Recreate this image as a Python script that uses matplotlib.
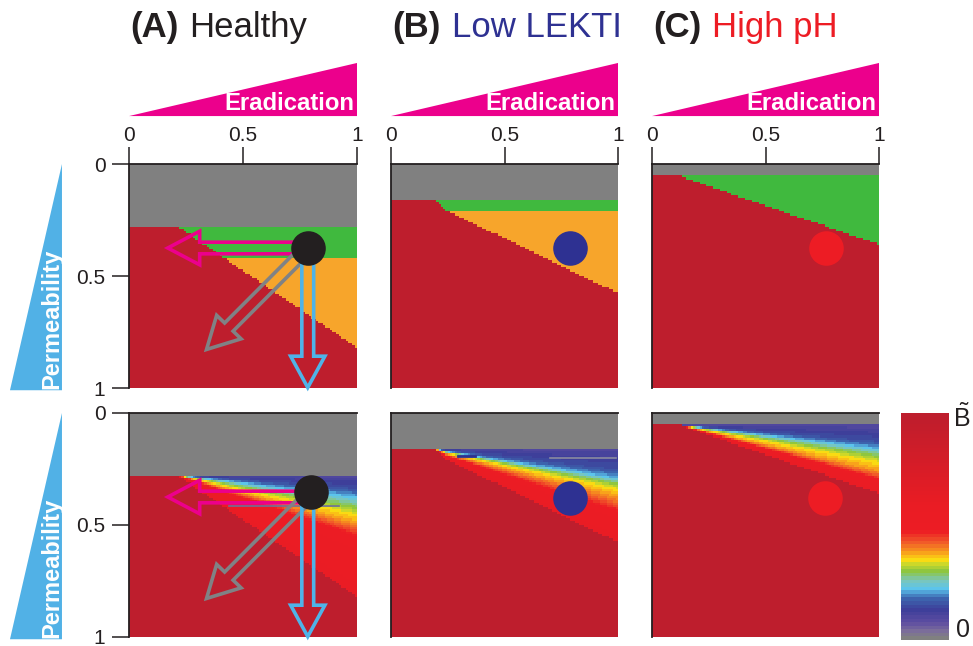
import numpy as np
import matplotlib
matplotlib.use("Agg")
import matplotlib.pyplot as plt
from matplotlib.colors import ListedColormap, LinearSegmentedColormap
from matplotlib.patches import Polygon, FancyArrow

plt.rcParams['font.family'] = ['Liberation Sans', 'DejaVu Sans']
plt.rcParams['mathtext.fontset'] = 'custom'
plt.rcParams['mathtext.rm'] = 'Liberation Sans'

W, H = 973, 646
N = 100  # grid cells per side of each map

labels = ["(A)", "(B)", "(C)"]
conditions = ["Healthy", "Low LEKTI", "High pH"]
condition_colors = ["#231f20", "#2e3192", "#ed1c24"]

# depth of the gray band at the top of each map
gray_depth = [0.277, 0.157, 0.055]
# vertices of the red boundary (eradication, permeability)
edge_x = [[0.21, 1.0], [0.186, 0.245, 1.0], [0.125, 1.0]]
edge_y = [[0.277, 0.82], [0.157, 0.207, 0.577], [0.055, 0.36]]
# lower limit of the green band
green_depth = [0.42, 0.208, 1.0]

# B value across the wedge, from the gray band (0) to the red edge (1)
grad_t = [[0, 0.12, 0.18, 0.25, 0.32, 0.40, 0.46, 0.52, 1.0],
          [0, 0.24, 0.32, 0.37, 0.43, 0.52, 0.61, 0.69, 1.0],
          [0, 0.25, 0.34, 0.43, 0.53, 0.67, 0.75, 0.80, 1.0]]
grad_v = [0.10, 0.16, 0.22, 0.29, 0.345, 0.39, 0.44, 0.50, 0.58]

dot_top = [(0.784, 0.374), (0.789, 0.375), (0.767, 0.375)]
dot_bottom = [(0.80, 0.352), (0.789, 0.378), (0.764, 0.378)]

arrow_start = (0.784, 0.375)
arrow_tips = [(0.17, 0.375), (0.34, 0.828), (0.784, 0.998)]
arrow_colors = ["#ec008c", "#808285", "#4fb3e8"]

region_colors = ["#808080", "#40b93e", "#f7a52b", "#be1e2d"]

cb_pos = [0.0, 0.03, 0.07, 0.13, 0.18, 0.22, 0.26, 0.30, 0.33, 0.35,
          0.39, 0.43, 0.48, 0.60, 1.0]
cb_colors = ["#808080", "#7d6f9a", "#5e4ea2", "#3d3f9a", "#3e68b0",
             "#5bc4ee", "#7dc7b8", "#8dc63f", "#c4d82e", "#fcdc12",
             "#f7931e", "#f1592a", "#ed1c24", "#ea1c24", "#be1e2d"]

bcmap = LinearSegmentedColormap.from_list("btilde", list(zip(cb_pos, cb_colors)), N=64)
rcmap = ListedColormap(region_colors)


def maps(i):
    c = (np.arange(N) + 0.5) / N
    X, Y = np.meshgrid(c, c)
    gd = gray_depth[i]
    edge = np.where(X < edge_x[i][0], gd, np.interp(X, edge_x[i], edge_y[i]))
    inside = (Y >= gd) & (Y < edge)
    cat = np.full((N, N), 3)
    cat[inside & (Y < green_depth[i])] = 1
    cat[inside & (Y >= green_depth[i])] = 2
    cat[Y < gd] = 0
    t = np.clip((Y - gd) / np.maximum(edge - gd, 1e-6), 0, 1)
    val = np.interp(t, grad_t[i], grad_v)
    val[~inside] = 1.0
    val[Y < gd] = 0.0
    return cat, val


def px_axes(x0, y0, x1, y1):
    return fig.add_axes([x0 / W, 1 - y1 / H, (x1 - x0) / W, (y1 - y0) / H])


fig = plt.figure(figsize=(W / 100, H / 100), dpi=100)

col_x = [(129, 357), (391, 618), (652, 879)]
row_y = [(164, 388), (413, 637)]

axes = {}
for r, (y0, y1) in enumerate(row_y):
    for i, (x0, x1) in enumerate(col_x):
        ax = px_axes(x0, y0, x1, y1)
        axes[r, i] = ax
        cat, val = maps(i)
        if r == 0:
            ax.imshow(cat, cmap=rcmap, vmin=-0.5, vmax=3.5, interpolation='nearest',
                      extent=(0, 1, 1, 0), aspect='auto')
        else:
            ax.imshow(val, cmap=bcmap, vmin=0, vmax=1, interpolation='nearest',
                      extent=(0, 1, 1, 0), aspect='auto')
        ax.set_xlim(0, 1)
        ax.set_ylim(1, 0)
        for s in ['right', 'bottom']:
            ax.spines[s].set_visible(False)
        for s in ['top', 'left']:
            ax.spines[s].set_linewidth(1.3)
            ax.spines[s].set_color('#231f20')
        ax.xaxis.tick_top()
        if r == 0:
            ax.set_xticks([0, 0.5, 1])
            ax.set_xticklabels(['0', '0.5', '1'])
        else:
            ax.set_xticks([])
        if i == 0:
            ax.set_yticks([0, 0.5, 1])
            ax.set_yticklabels(['0', '0.5', '1'])
        else:
            ax.set_yticks([])
        ax.tick_params(direction='out', length=12, width=1.1, labelsize=15,
                       color='#231f20', labelcolor='#231f20')
        ax.tick_params(axis='x', pad=2)
        ax.tick_params(axis='y', pad=5)

        dots = dot_top if r == 0 else dot_bottom
        ax.scatter([dots[i][0]], [dots[i][1]], s=620, color=condition_colors[i],
                   zorder=5, linewidths=0)

        # eradication / permeability arrows from the healthy state
        if i == 0:
            for (tx, ty), col in zip(arrow_tips, arrow_colors):
                ax.add_patch(FancyArrow(arrow_start[0], arrow_start[1],
                                        tx - arrow_start[0], ty - arrow_start[1],
                                        width=0.052, head_width=0.15, head_length=0.14,
                                        length_includes_head=True, fill=False,
                                        ec=col, lw=2.6, zorder=4, clip_on=False))
            if r == 1:
                ax.plot([0.44, 0.92], [0.415, 0.415], color='#6d6e9a', lw=1.2, zorder=3)
        if r == 1 and i == 1:
            ax.plot([0.295, 0.37], [0.192, 0.192], color='#2e3192', lw=2, zorder=3)
            ax.plot([0.70, 0.99], [0.202, 0.202], color='#8a8aa0', lw=1.2, zorder=3)

        # wedge labels
        if r == 0:
            ax.add_patch(Polygon([(0, 1.214), (1.0, 1.451), (1.0, 1.214)],
                                 closed=True, transform=ax.transAxes,
                                 clip_on=False, color='#ec008c', lw=0))
            ax.text(0.99, 1.272, "Eradication", transform=ax.transAxes,
                    ha='right', va='center', color='white', fontsize=17.2,
                    fontweight='bold')
        if i == 0:
            ax.add_patch(Polygon([(-0.294, 1.0), (-0.522, -0.01), (-0.294, -0.01)],
                                 closed=True, transform=ax.transAxes,
                                 clip_on=False, color='#51b1e6', lw=0))
            ax.text(-0.34, -0.005, "Permeability", transform=ax.transAxes,
                    rotation=90, ha='center', va='bottom', color='white',
                    fontsize=17, fontweight='bold')

# panel titles: bold letter followed by the condition name
renderer = fig.canvas.get_renderer()
for i in range(3):
    ax = axes[0, i]
    ty = 1 + (164 - 37) / 224
    t1 = ax.text(0.005, ty, labels[i], transform=ax.transAxes, fontsize=25,
                 fontweight='bold', color='#231f20', va='baseline')
    bb = t1.get_window_extent(renderer)
    xe = ax.transAxes.inverted().transform((bb.x1, bb.y0))[0]
    axw = col_x[i][1] - col_x[i][0]
    ax.text(xe + 11 / axw, ty, conditions[i], transform=ax.transAxes, fontsize=25,
            color=condition_colors[i], va='baseline')

# colour scale
cax = px_axes(901, 413, 949, 640)
cax.imshow(np.linspace(1, 0, 64)[:, None], cmap=bcmap, vmin=0, vmax=1,
           aspect='auto', interpolation='nearest')
cax.set_axis_off()
fig.text(962 / W, 1 - 418 / H, r'$\tilde{\mathrm{B}}$', ha='center', va='center',
         fontsize=18, color='#231f20')
fig.text(963 / W, 1 - 630 / H, '0', ha='center', va='center', fontsize=18,
         color='#231f20')

fig.savefig("out.png", dpi=100)
